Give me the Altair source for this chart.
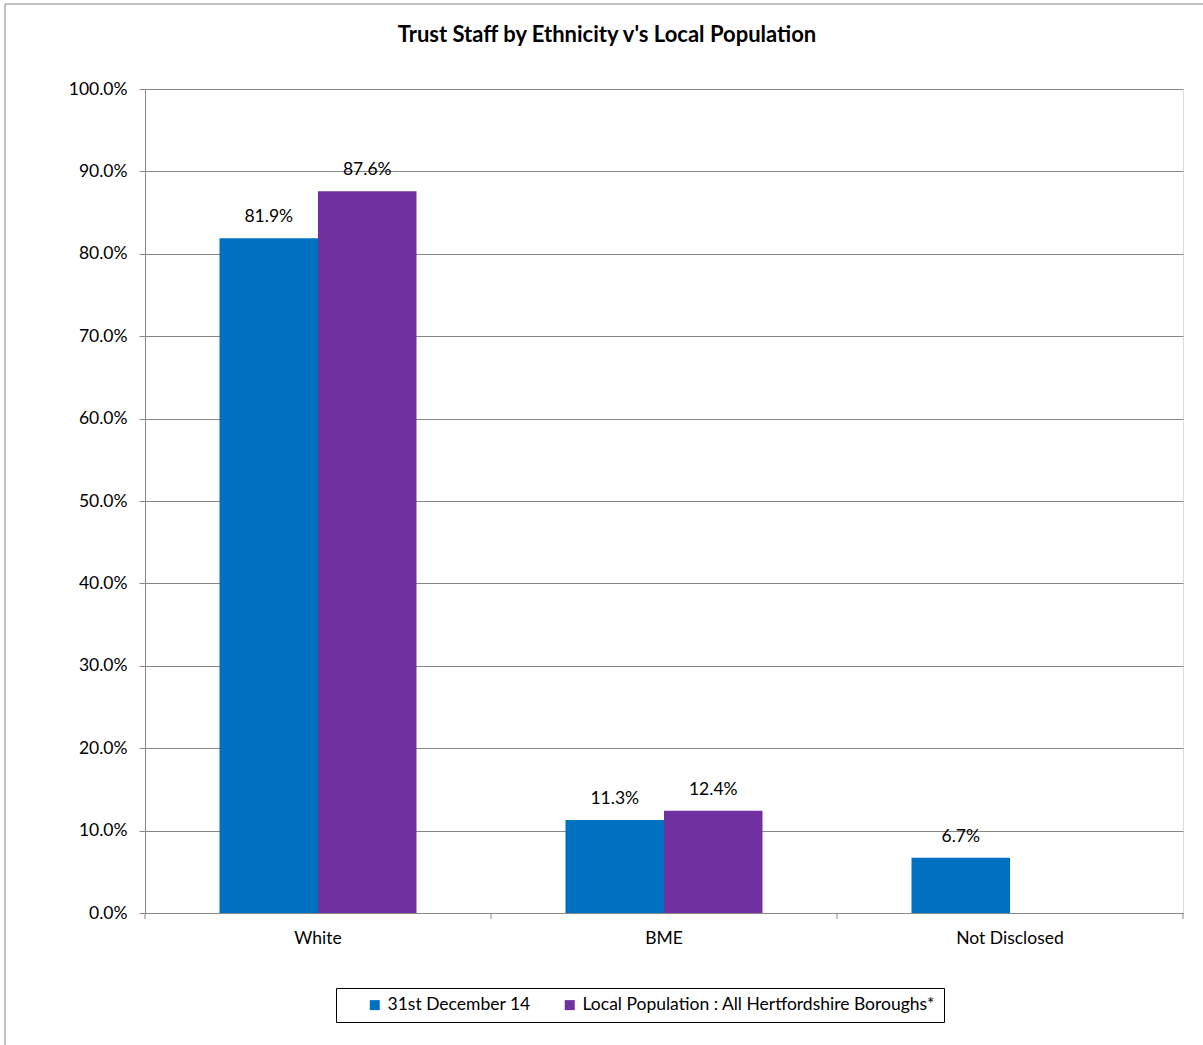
import altair as alt
import pandas as pd

categories = ["White", "BME", "Not Disclosed"]
series_names = ["31st December 14", "Local Population : All Hertfordshire Boroughs*"]
staff_values = [0.819, 0.113, 0.067]
local_values = [0.876, 0.124, None]
series_colors = ["#0070C0", "#7030A0"]
title_text = "Trust Staff by Ethnicity v's Local Population"

rows = []
for c, s, l in zip(categories, staff_values, local_values):
    rows.append({"cat": c, "series": series_names[0], "value": s})
    if l is not None:
        rows.append({"cat": c, "series": series_names[1], "value": l})
df = pd.DataFrame(rows)
boundaries = pd.DataFrame({"b": list(range(len(categories) + 1))})

FONT = "Lato"
FS = 17.5
W, H = 1038, 824
pin = 149 / 346

xscale = alt.Scale(domain=categories, paddingInner=pin, paddingOuter=pin / 2)
xoff = alt.XOffset("series:N", scale=alt.Scale(domain=series_names, paddingInner=0, paddingOuter=0))

base = alt.Chart(df)

bars = base.mark_bar(stroke=None).encode(
    x=alt.X("cat:N", scale=xscale, sort=categories, title=None,
            axis=alt.Axis(labelAngle=0, labelFontSize=FS, labelColor="black", labelFont=FONT,
                          labelPadding=16, ticks=False,
                          domainColor="#888", grid=False)),
    xOffset=xoff,
    y=alt.Y("value:Q", scale=alt.Scale(domain=[0, 1], nice=False), title=None,
            axis=alt.Axis(format=".1%", values=[i / 10 for i in range(11)], labelFontSize=FS,
                          labelColor="black", labelFont=FONT, labelPadding=12, tickSize=6,
                          tickColor="#888", domainColor="#888", gridColor="#888", grid=True)),
    color=alt.Color("series:N", scale=alt.Scale(domain=series_names, range=series_colors),
                    legend=alt.Legend(title=None, orient="none", legendX=191, legendY=899,
                                      direction="horizontal", strokeColor="black", padding=8,
                                      symbolType="square", symbolSize=100, symbolStrokeWidth=0,
                                      labelFontSize=FS, labelFont=FONT, labelColor="black",
                                      labelLimit=0, columnPadding=8, symbolOffset=22,
                                      labelOffset=4)),
)

labels = base.mark_text(dy=-12, fontSize=FS, font=FONT, color="black", baseline="bottom").encode(
    x=alt.X("cat:N", scale=xscale, sort=categories, axis=None),
    xOffset=xoff,
    y="value:Q",
    text=alt.Text("value:Q", format=".1%"),
)

xticks = alt.Chart(boundaries).mark_rule(color="#888", strokeWidth=1).encode(
    x=alt.X("b:Q", scale=alt.Scale(domain=[0, len(categories)], nice=False, zero=False), axis=None),
    y=alt.value(H), y2=alt.value(H + 6),
)

border = alt.Chart(pd.DataFrame({"a": [0]})).mark_rect(fill=None, stroke="#888", strokeWidth=1).encode(
    x=alt.value(-140), x2=alt.value(1070), y=alt.value(-85), y2=alt.value(970)
)

title = alt.Chart(pd.DataFrame({"t": [title_text]})).mark_text(
    fontSize=22, fontWeight="bold", font=FONT, color="black", align="center", baseline="middle"
).encode(text="t:N", x=alt.value(462), y=alt.value(-54))

chart = alt.layer(border, bars, labels, title, xticks).resolve_scale(x="independent").properties(
    width=W, height=H,
    autosize=alt.AutoSizeParams(type="none"),
    padding={"left": 145, "top": 89, "right": 20, "bottom": 132},
).configure_view(stroke="#888", strokeWidth=1.5).configure(background="white")

chart.save("out.html", embed_options={"renderer": "svg", "actions": False})
